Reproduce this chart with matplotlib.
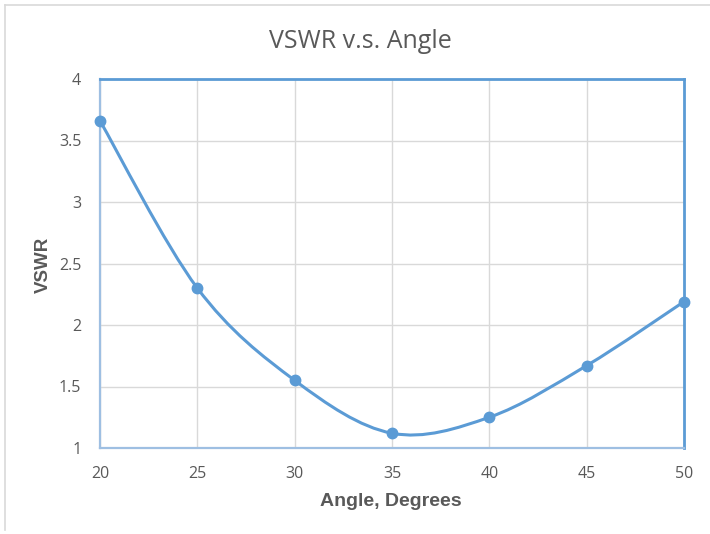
import numpy as np
import matplotlib
matplotlib.use("Agg")
import matplotlib.pyplot as plt
from matplotlib.path import Path
from matplotlib.patches import PathPatch
from matplotlib.lines import Line2D

# data
angle_deg = [20, 25, 30, 35, 40, 45, 50]
vswr = [3.66, 2.30, 1.55, 1.12, 1.25, 1.67, 2.19]

x_ticks = [20, 25, 30, 35, 40, 45, 50]
y_ticks = [1, 1.5, 2, 2.5, 3, 3.5, 4]

BLUE = "#5b9bd5"
TXT = "#595959"
GRID = "#d9d9d9"

fig = plt.figure(figsize=(7.10, 5.34), dpi=100)
ax = fig.add_axes([100 / 710, 1 - 448 / 534, 584 / 710, 369 / 534])

ax.set_xlim(20, 50)
ax.set_ylim(1, 4)
ax.set_xticks(x_ticks)
ax.set_yticks(y_ticks)
ax.set_xticklabels([f"{t:g}" for t in x_ticks])
ax.set_yticklabels([f"{t:g}" for t in y_ticks])
ax.grid(True, color=GRID, lw=1.0)
ax.set_axisbelow(True)
ax.tick_params(length=0, labelsize=11.5, labelcolor=TXT)
ax.tick_params(axis="x", pad=13)
ax.tick_params(axis="y", pad=13.5)
for lab in ax.get_xticklabels() + ax.get_yticklabels():
    lab.set_family("Open Sans")

# plot-area frame: top/right solid blue, left/bottom lighter
for side in ("top", "right"):
    ax.spines[side].set_color(BLUE)
    ax.spines[side].set_linewidth(2.0)
for side in ("left", "bottom"):
    ax.spines[side].set_color("#9ebfe2")
    ax.spines[side].set_linewidth(1.6)

# Excel-style smoothed line: Catmull-Rom -> cubic Bezier, built in screen scale
sx, sy = 584 / 30.0, 369 / 3.0
P = np.column_stack([np.asarray(angle_deg, float) * sx, np.asarray(vswr, float) * sy])
verts = [tuple(P[0])]
codes = [Path.MOVETO]
n = len(P)
for i in range(n - 1):
    p0 = P[i - 1] if i > 0 else P[i]
    p3 = P[i + 2] if i + 2 < n else P[i + 1]
    c1 = P[i] + (P[i + 1] - p0) / 6.0
    c2 = P[i + 1] - (p3 - P[i]) / 6.0
    verts += [tuple(c1), tuple(c2), tuple(P[i + 1])]
    codes += [Path.CURVE4] * 3
verts = [(vx / sx, vy / sy) for vx, vy in verts]
ax.add_patch(PathPatch(Path(verts, codes), fill=False, edgecolor=BLUE, lw=2.2,
                       clip_on=False, zorder=3, capstyle="round"))
ax.plot(angle_deg, vswr, "o", color=BLUE, ms=7.5, clip_on=False, zorder=4)

fig.text(360 / 710, 1 - 41 / 534, "VSWR v.s. Angle", ha="center", va="center",
         fontsize=18, color=TXT, family="Open Sans")
fig.text(391 / 710, 1 - 501 / 534, "Angle, Degrees", ha="center", va="center",
         fontsize=14, color=TXT, family="Liberation Sans", weight="bold")
fig.text(43 / 710, 1 - 265 / 534, "VSWR", ha="center", va="center", rotation=90,
         fontsize=13.5, color=TXT, family="Liberation Sans", weight="bold")

# outer chart border (only top and left visible in the reference)
fig.add_artist(Line2D([5 / 710, 1.0], [1 - 5 / 534, 1 - 5 / 534], transform=fig.transFigure,
                      color="#d9d9d9", lw=1.2))
fig.add_artist(Line2D([5 / 710, 5 / 710], [1 - 5 / 534, 1 - 530 / 534], transform=fig.transFigure,
                      color="#d9d9d9", lw=1.2))

fig.savefig("out.png", dpi=100)
